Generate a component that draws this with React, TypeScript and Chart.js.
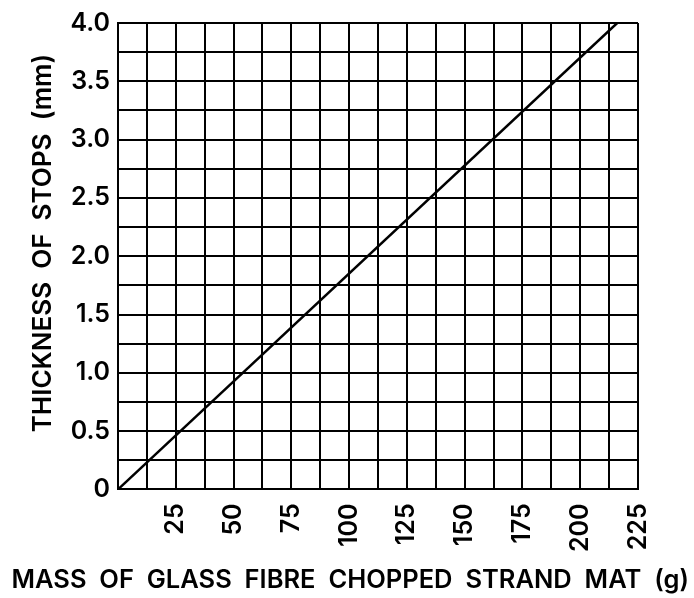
import React, { useEffect, useRef } from 'react';
import { Chart, registerables } from 'chart.js';

Chart.register(...registerables);

// Data
const massGrams = [0, 216];
const stopThicknessMm = [0, 4.0];
const xLabelledTicks = [25, 50, 75, 100, 125, 150, 175, 200, 225];
const yLabelledTicks = [0, 0.5, 1.0, 1.5, 2.0, 2.5, 3.0, 3.5, 4.0];
const xMin = 0;
const xMax = 225;
const yMin = 0;
const yMax = 4.0;
const xGridStep = 12.5;
const yGridStep = 0.25;
const xTitle = ' MASS  OF  GLASS  FIBRE  CHOPPED  STRAND  MAT  (g)';
const yTitle = '    THICKNESS  OF  STOPS  (mm)';

const FONT = "Inter, 'DejaVu Sans', sans-serif";

export default function App() {
  const canvasRef = useRef<HTMLCanvasElement | null>(null);

  useEffect(() => {
    const canvas = canvasRef.current;
    if (!canvas) return;
    const points = massGrams.map((m, i) => ({ x: m, y: stopThicknessMm[i] }));
    const near = (a: number, b: number) => Math.abs(a - b) < 1e-6;

    const chart = new Chart(canvas, {
      type: 'scatter',
      data: {
        datasets: [
          {
            data: points,
            showLine: true,
            borderColor: '#000',
            borderWidth: 2.5,
            pointRadius: 0,
            fill: false,
          },
        ],
      },
      options: {
        animation: false,
        responsive: false,
        maintainAspectRatio: false,
        layout: { padding: { left: 0, right: 0, top: 22, bottom: 0 } },
        plugins: {
          legend: { display: false },
          tooltip: { enabled: false },
          title: {
            display: true,
            position: 'bottom',
            text: xTitle,
            color: '#000',
            font: { family: FONT, size: 25.5, weight: '600' },
            padding: { top: 3, bottom: 2 },
          },
        },
        scales: {
          x: {
            type: 'linear',
            min: xMin,
            max: xMax,
            afterBuildTicks: (s: any) => {
              const t = [];
              for (let v = xMin; v <= xMax + 1e-9; v += xGridStep) t.push({ value: v });
              s.ticks = t;
            },
            afterFit: (s: any) => {
              s.height = 73;
            },
            grid: { color: '#000', lineWidth: 2, drawTicks: false },
            border: { color: '#000', width: 2 },
            ticks: {
              autoSkip: false,
              minRotation: 90,
              maxRotation: 90,
              padding: 14,
              color: '#000',
              font: { family: FONT, size: 25, weight: '600' },
              callback: (v: any) =>
                xLabelledTicks.some((t) => near(t, Number(v))) ? String(Number(v)) : '',
            },
          },
          y: {
            type: 'linear',
            min: yMin,
            max: yMax,
            afterBuildTicks: (s: any) => {
              const t = [];
              for (let v = yMin; v <= yMax + 1e-9; v += yGridStep) t.push({ value: v });
              s.ticks = t;
            },
            afterFit: (s: any) => {
              s.width = 118;
            },
            grid: { color: '#000', lineWidth: 2, drawTicks: false },
            border: { color: '#000', width: 2 },
            title: {
              display: true,
              text: yTitle,
              color: '#000',
              font: { family: FONT, size: 26, weight: '600' },
              padding: { top: 28, bottom: 0 },
            },
            ticks: {
              autoSkip: false,
              padding: 8,
              color: '#000',
              font: { family: FONT, size: 25, weight: '600' },
              callback: (v: any) => {
                const n = Number(v);
                if (!yLabelledTicks.some((t) => near(t, n))) return '';
                return near(n, 0) ? '0' : n.toFixed(1);
              },
            },
          },
          y2: {
            type: 'linear',
            position: 'right',
            display: true,
            grid: { display: false, drawTicks: false },
            border: { display: false },
            ticks: { display: false },
            afterFit: (s: any) => {
              s.width = 56;
            },
          },
        },
      },
    });
    return () => chart.destroy();
  }, []);

  return (
    <div style={{ position: 'fixed', left: 0, top: 0, width: 694, height: 598, background: '#fff' }}>
      <canvas ref={canvasRef} width={694} height={598} style={{ width: 694, height: 598, display: 'block' }} />
    </div>
  );
}
